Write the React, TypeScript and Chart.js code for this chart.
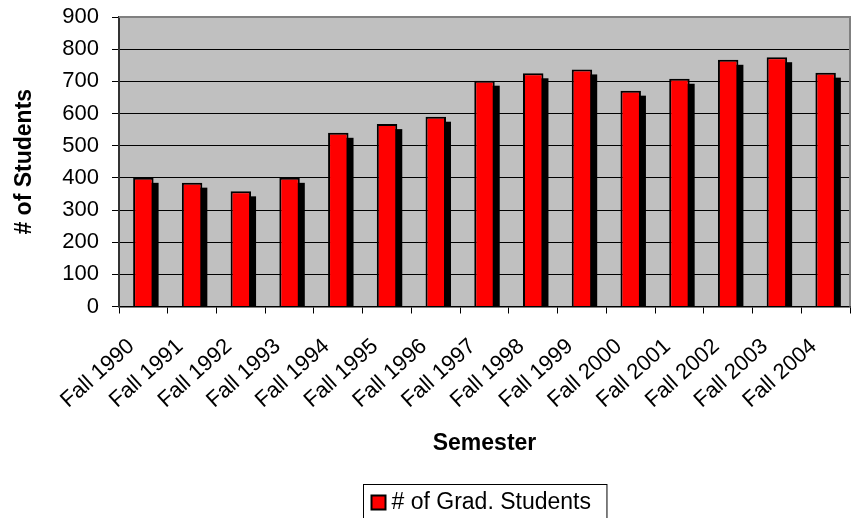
import React, { useEffect, useRef } from "react";
import { Chart, registerables } from "chart.js";

Chart.register(...registerables);

const categories = [
  "Fall 1990", "Fall 1991", "Fall 1992", "Fall 1993", "Fall 1994",
  "Fall 1995", "Fall 1996", "Fall 1997", "Fall 1998", "Fall 1999",
  "Fall 2000", "Fall 2001", "Fall 2002", "Fall 2003", "Fall 2004",
];
const gradStudents = [400, 385, 358, 400, 540, 567, 590, 702, 725, 737, 671, 708, 767, 775, 727];
const yTicks = [0, 100, 200, 300, 400, 500, 600, 700, 800, 900];
const seriesLabel = "# of Grad. Students";
const xTitle = "Semester";
const yTitle = "# of Students";

const FONT = "'Liberation Sans', Arial, sans-serif";

const plotBackground = {
  id: "plotBackground",
  beforeDraw(chart: any) {
    const { ctx, chartArea } = chart;
    const { left, top, right, bottom } = chartArea;
    ctx.save();
    ctx.fillStyle = "#C0C0C0";
    ctx.fillRect(left, top, right - left, bottom - top);
    ctx.restore();
  },
  afterDraw(chart: any) {
    const { ctx, chartArea } = chart;
    const { left, top, right, bottom } = chartArea;
    ctx.save();
    ctx.strokeStyle = "#808080";
    ctx.lineWidth = 2;
    ctx.beginPath();
    ctx.moveTo(left, top);
    ctx.lineTo(right, top);
    ctx.lineTo(right, bottom);
    ctx.stroke();
    ctx.restore();
  },
};

const barShadow = {
  id: "barShadow",
  beforeDatasetsDraw(chart: any) {
    const { ctx, chartArea } = chart;
    const { left, top, right, bottom } = chartArea;
    const meta = chart.getDatasetMeta(0);
    ctx.save();
    ctx.beginPath();
    ctx.rect(left, top, right - left, bottom - top);
    ctx.clip();
    ctx.fillStyle = "#000000";
    meta.data.forEach((el: any) => {
      const { x, y, base, width } = el.getProps(["x", "y", "base", "width"], true);
      ctx.fillRect(x - width / 2 + 5, y + 5, width, base - y);
    });
    ctx.restore();
  },
};

const boxedLegend = {
  id: "boxedLegend",
  afterDraw(chart: any) {
    const { ctx, chartArea } = chart;
    const ds = chart.data.datasets[0];
    const label = ds.label as string;
    ctx.save();
    ctx.font = `23px ${FONT}`;
    const textW = ctx.measureText(label).width;
    const padL = 8;
    const sw = 14;
    const gap = 6;
    const padR = 16;
    const boxW = padL + sw + gap + textW + padR;
    const cx = (chartArea.left + chartArea.right) / 2;
    const bx = Math.round(cx - boxW / 2) + 0.5;
    const by = chart.height - 34 + 0.5;
    ctx.strokeStyle = "#000";
    ctx.lineWidth = 1;
    ctx.fillStyle = "#fff";
    ctx.fillRect(bx, by, boxW, 60);
    ctx.strokeRect(bx, by, boxW, 60);
    const midY = by + 18;
    ctx.fillStyle = ds.backgroundColor;
    ctx.fillRect(bx + padL, midY - sw / 2, sw, sw);
    ctx.strokeStyle = "#000";
    ctx.lineWidth = 2;
    ctx.strokeRect(bx + padL, midY - sw / 2, sw, sw);
    ctx.fillStyle = "#000";
    ctx.textBaseline = "middle";
    ctx.textAlign = "left";
    ctx.fillText(label, bx + padL + sw + gap, midY);
    ctx.restore();
  },
};

export default function App() {
  const canvasRef = useRef<HTMLCanvasElement | null>(null);

  useEffect(() => {
    const canvas = canvasRef.current;
    if (!canvas) return;
    const chart = new Chart(canvas, {
      type: "bar",
      data: {
        labels: categories,
        datasets: [
          {
            label: seriesLabel,
            data: gradStudents,
            backgroundColor: "#FF0000",
            borderColor: "#000000",
            borderWidth: 2,
            barPercentage: 0.42,
            categoryPercentage: 1,
          },
        ],
      },
      options: {
        responsive: false,
        animation: false,
        devicePixelRatio: 1,
        layout: { padding: { top: 17, right: 1, left: 0, bottom: 0 } },
        plugins: {
          legend: { display: false },
          tooltip: { enabled: false },
        },
        scales: {
          x: {
            grid: {
              drawOnChartArea: false,
              drawTicks: true,
              tickLength: 7,
              color: "#000",
              offset: true,
            },
            border: { color: "#000", width: 1.5 },
            ticks: {
              autoSkip: false,
              minRotation: 42,
              maxRotation: 42,
              color: "#000",
              font: { family: FONT, size: 22 },
              padding: 20,
              labelOffset: -12,
            },
            title: {
              display: true,
              text: xTitle,
              color: "#000",
              font: { family: FONT, size: 23, weight: "bold", lineHeight: 1 },
              padding: { top: 0, bottom: 63 },
            },
            afterFit: (s: any) => {
              s.height = 518 - 306.5;
              s.paddingLeft = 0;
              s.paddingRight = 0;
            },
          },
          y: {
            min: 0,
            max: 900,
            afterBuildTicks: (s: any) => {
              s.ticks = yTicks.map((v) => ({ value: v }));
            },
            grid: {
              color: (c: any) => (c.tick && c.tick.value === 900 ? "rgba(0,0,0,0)" : "#000"),
              tickColor: "#000",
              lineWidth: 1,
              tickLength: 7,
              drawTicks: true,
            },
            border: { color: "#333", width: 2 },
            ticks: {
              color: "#000",
              font: { family: FONT, size: 22 },
              padding: 13,
            },
            title: {
              display: true,
              text: yTitle,
              color: "#000",
              font: { family: FONT, size: 23, weight: "bold", lineHeight: 1 },
              padding: { top: 13, bottom: 0 },
            },
            afterFit: (s: any) => {
              s.width = 119;
              s.paddingTop = 0;
              s.paddingBottom = 0;
            },
          },
        },
      },
      plugins: [plotBackground, barShadow, boxedLegend],
    });
    return () => chart.destroy();
  }, []);

  return (
    <div style={{ position: "fixed", left: 0, top: 0, width: 851, height: 518, background: "#fff" }}>
      <canvas ref={canvasRef} width={851} height={518} />
    </div>
  );
}
